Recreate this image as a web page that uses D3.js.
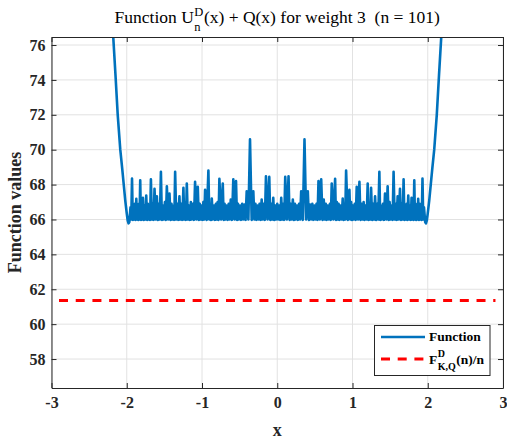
<!DOCTYPE html>
<html><head><meta charset="utf-8">
<script src="https://cdn.jsdelivr.net/npm/d3@7"></script>
<style>
html,body{margin:0;padding:0;background:#fff;}
svg{display:block;}
</style></head>
<body>
<svg id="chart" width="507" height="442"></svg>
<script>
// ---- data ----
const xTicks = [-3,-2,-1,0,1,2,3];
const yTicks = [58,60,62,64,66,68,70,72,74,76];
const xDomain = [-3,3];
const yDomain = [56.34,76.46];

// outer branches of the function
const leftOuterX = [-2.32,-2.25,-2.18,-2.15,-2.12,-2.086,-2.06,-2.04,-2.02,-2.00,-1.988,-1.976,-1.966];
const leftOuterY = [88.0,82.0,76.5,74.3,72.0,70.0,68.9,68.0,67.1,66.35,65.95,65.78,65.85];
const rightOuterX = [1.966,1.976,1.988,2.00,2.02,2.04,2.06,2.086,2.12,2.15,2.18,2.25,2.32];
const rightOuterY = [65.85,65.78,65.95,66.35,67.1,68.0,68.9,70.0,72.0,74.3,76.5,82.0,88.0];

// spikes (near the nodes) and troughs between them, x < 0 (incl. 0)
const leftSpikeX = [-1.950,-1.930,-1.910,-1.892,-1.873,-1.855,-1.838,-1.821,-1.803,-1.785,-1.763,-1.741,-1.720,-1.700,-1.679,-1.655,-1.631,-1.600,-1.573,-1.546,-1.520,-1.493,-1.467,-1.432,-1.405,-1.380,-1.357,-1.328,-1.300,-1.275,-1.247,-1.225,-1.202,-1.175,-1.148,-1.120,-1.092,-1.056,-1.030,-1.005,-0.982,-0.959,-0.915,-0.892,-0.870,-0.840,-0.815,-0.792,-0.769,-0.724,-0.700,-0.672,-0.645,-0.618,-0.584,-0.548,-0.522,-0.495,-0.466,-0.436,-0.406,-0.362,-0.318,-0.290,-0.262,-0.235,-0.207,-0.178,-0.150,-0.106,-0.080,-0.053,-0.026,0.000];
const leftSpikeY = [66.70,68.35,66.80,66.90,67.18,66.80,66.90,68.25,66.90,67.24,66.80,67.37,66.90,66.80,68.30,66.90,67.76,67.33,66.90,68.73,66.80,67.00,67.90,67.49,66.90,66.80,68.73,66.90,67.33,66.90,67.81,66.90,68.06,66.80,67.00,66.90,68.16,67.87,66.90,66.80,67.00,67.70,68.80,66.90,67.20,66.80,66.90,67.00,68.33,68.06,66.90,66.80,66.90,67.14,68.30,68.20,66.90,66.80,66.90,66.85,67.62,70.59,67.62,66.90,66.80,66.90,67.14,66.90,68.48,68.44,66.90,67.24,66.80,66.90];
const leftTroughX = [-1.940,-1.920,-1.901,-1.882,-1.864,-1.846,-1.830,-1.812,-1.794,-1.774,-1.752,-1.730,-1.710,-1.690,-1.667,-1.643,-1.615,-1.587,-1.560,-1.533,-1.507,-1.480,-1.450,-1.418,-1.392,-1.368,-1.342,-1.314,-1.288,-1.261,-1.236,-1.213,-1.188,-1.161,-1.134,-1.106,-1.074,-1.043,-1.017,-0.993,-0.970,-0.937,-0.903,-0.881,-0.855,-0.827,-0.803,-0.780,-0.746,-0.712,-0.686,-0.658,-0.631,-0.601,-0.566,-0.535,-0.508,-0.480,-0.451,-0.421,-0.384,-0.340,-0.304,-0.276,-0.248,-0.221,-0.192,-0.164,-0.128,-0.093,-0.066,-0.040,-0.013];
const leftTroughY = [66.00,65.98,66.00,65.98,66.00,65.98,66.00,65.98,66.00,65.98,66.00,65.98,66.00,65.98,66.00,65.98,66.00,65.98,66.00,65.98,66.00,65.98,66.00,65.98,66.00,65.98,66.00,65.98,66.00,65.98,66.00,65.98,66.00,65.98,66.00,65.98,66.00,65.98,66.00,65.98,66.00,65.98,66.00,65.98,66.00,65.98,66.00,65.98,66.00,65.98,66.00,65.98,66.00,65.98,66.00,65.98,66.00,65.98,66.00,65.98,66.00,65.98,66.00,65.98,66.00,65.98,66.00,65.98,66.00,65.98,66.00,65.98,66.00];

// x > 0
const rightTroughX = [0.013,0.040,0.066,0.093,0.128,0.164,0.192,0.221,0.248,0.276,0.304,0.340,0.384,0.421,0.451,0.480,0.508,0.535,0.566,0.601,0.631,0.658,0.686,0.712,0.746,0.780,0.803,0.827,0.855,0.881,0.903,0.937,0.970,0.993,1.017,1.043,1.074,1.106,1.134,1.161,1.188,1.213,1.236,1.261,1.288,1.314,1.342,1.368,1.392,1.418,1.450,1.480,1.507,1.533,1.560,1.587,1.615,1.643,1.667,1.690,1.710,1.730,1.752,1.774,1.794,1.812,1.830,1.846,1.864,1.882,1.901,1.920,1.940];
const rightTroughY = [66.00,65.98,66.00,65.98,66.00,65.98,66.00,65.98,66.00,65.98,66.00,65.98,66.00,65.98,66.00,65.98,66.00,65.98,66.00,65.98,66.00,65.98,66.00,65.98,66.00,65.98,66.00,65.98,66.00,65.98,66.00,65.98,66.00,65.98,66.00,65.98,66.00,65.98,66.00,65.98,66.00,65.98,66.00,65.98,66.00,65.98,66.00,65.98,66.00,65.98,66.00,65.98,66.00,65.98,66.00,65.98,66.00,65.98,66.00,65.98,66.00,65.98,66.00,65.98,66.00,65.98,66.00,65.98,66.00,65.98,66.00,65.98,66.00];
const rightSpikeX = [0.026,0.053,0.080,0.106,0.150,0.178,0.207,0.235,0.262,0.290,0.318,0.362,0.406,0.436,0.466,0.495,0.522,0.548,0.584,0.618,0.645,0.672,0.700,0.724,0.769,0.792,0.815,0.840,0.870,0.892,0.915,0.959,0.982,1.005,1.030,1.056,1.092,1.120,1.148,1.175,1.202,1.225,1.247,1.275,1.300,1.328,1.357,1.380,1.405,1.432,1.467,1.493,1.520,1.546,1.573,1.600,1.631,1.655,1.679,1.700,1.720,1.741,1.763,1.785,1.803,1.821,1.838,1.855,1.873,1.892,1.910,1.930,1.950];
const rightSpikeY = [66.80,67.24,66.90,68.44,68.48,66.90,67.14,66.90,66.80,66.90,67.62,70.59,67.62,66.85,66.90,66.80,66.90,68.20,68.30,67.14,66.90,66.80,66.90,68.06,68.33,67.00,66.90,66.80,67.20,66.90,68.80,67.70,67.00,66.80,66.90,67.87,68.16,66.90,67.00,66.80,68.06,66.90,67.81,66.90,67.33,66.90,68.73,66.80,66.90,67.49,67.90,67.00,66.80,68.73,66.90,67.33,67.76,66.90,68.30,66.80,66.90,67.37,66.80,67.24,66.90,68.25,66.90,66.80,67.18,66.90,66.80,68.35,66.70];

// red dashed reference level F/n
const refX = [-2.9, 2.9];
const refY = [61.36, 61.36];

// ---- assemble the curve ----
const curve = [];
leftOuterX.forEach((v,i)=>curve.push([v,leftOuterY[i]]));
leftSpikeX.forEach((v,i)=>{
  curve.push([v,leftSpikeY[i]]);
  if(i<leftTroughX.length) curve.push([leftTroughX[i],leftTroughY[i]]);
});
rightSpikeX.forEach((v,i)=>{
  curve.push([rightTroughX[i],rightTroughY[i]]);
  curve.push([v,rightSpikeY[i]]);
});
rightOuterX.forEach((v,i)=>curve.push([v,rightOuterY[i]]));
const refLine = refX.map((v,i)=>[v,refY[i]]);

// ---- layout ----
const FAM = "Liberation Serif, Times New Roman, Times, serif";
const svg = d3.select("#chart");
const L=51.5, R=503, T=37, B=388;
const x = d3.scaleLinear().domain(xDomain).range([L,R]);
const y = d3.scaleLinear().domain(yDomain).range([B,T]);
const axisCol = "#262626";

function txt(sel, size, weight){
  return sel.attr("font-family",FAM).attr("font-size",size).attr("font-weight",weight||"normal");
}

svg.append("rect").attr("x",L).attr("y",T).attr("width",R-L).attr("height",B-T).attr("fill","#fff");

// grid
const grid = svg.append("g").attr("stroke","#e2e2e2").attr("stroke-width",1);
xTicks.forEach(t=>grid.append("line").attr("x1",x(t)).attr("x2",x(t)).attr("y1",T).attr("y2",B));
yTicks.forEach(t=>grid.append("line").attr("x1",L).attr("x2",R).attr("y1",y(t)).attr("y2",y(t)));

// clip
svg.append("clipPath").attr("id","clip").append("rect").attr("x",L).attr("y",T).attr("width",R-L).attr("height",B-T);

const line = d3.line().x(d=>x(d[0])).y(d=>y(d[1]));
const plot = svg.append("g").attr("clip-path","url(#clip)");
plot.append("path").datum(curve).attr("d",line).attr("fill","none")
  .attr("stroke","#0072bd").attr("stroke-width",2.6).attr("stroke-linejoin","round");
plot.append("path").datum(refLine).attr("d",line).attr("fill","none")
  .attr("stroke","#ff0000").attr("stroke-width",3).attr("stroke-dasharray","9,7.7");

// axes
const gx = svg.append("g").attr("transform",`translate(0,${B})`)
  .call(d3.axisBottom(x).tickValues(xTicks).tickSizeInner(-5).tickSizeOuter(0).tickPadding(9).tickFormat(d=>String(d)));
const gy = svg.append("g").attr("transform",`translate(${L},0)`)
  .call(d3.axisLeft(y).tickValues(yTicks).tickSizeInner(-5).tickSizeOuter(0).tickPadding(6).tickFormat(d=>String(d)));
const gt = svg.append("g").attr("transform",`translate(0,${T})`)
  .call(d3.axisTop(x).tickValues(xTicks).tickSizeInner(-5).tickSizeOuter(0).tickFormat(""));
const gr = svg.append("g").attr("transform",`translate(${R},0)`)
  .call(d3.axisRight(y).tickValues(yTicks).tickSizeInner(-5).tickSizeOuter(0).tickFormat(""));
[gx,gy,gt,gr].forEach(g=>{
  txt(g,16,"bold");
  g.selectAll("path,line").attr("stroke",axisCol).attr("stroke-width",1);
  g.selectAll("text").attr("fill",axisCol);
});

// axis titles
txt(svg.append("text"),18,"bold").attr("x",(L+R)/2).attr("y",436).attr("text-anchor","middle")
  .attr("fill",axisCol).text("x");
txt(svg.append("text"),18,"bold").attr("transform",`translate(21,${(T+B)/2}) rotate(-90)`).attr("text-anchor","middle")
  .attr("fill",axisCol).text("Function values");

// title with stacked super/subscript
const tg = svg.append("g");
const t1 = txt(tg.append("text"),17.5).attr("y",23).attr("fill","#000").text("Function U");
const w1 = t1.node().getComputedTextLength();
const sup = txt(tg.append("text"),12.5).attr("x",w1+0.5).attr("y",16).text("D");
const sub = txt(tg.append("text"),12.5).attr("x",w1+0.5).attr("y",31).text("n");
const ws = Math.max(sup.node().getComputedTextLength(), sub.node().getComputedTextLength());
const t2 = txt(tg.append("text"),17.5).attr("x",w1+ws+1).attr("y",23).attr("fill","#000")
  .attr("xml:space","preserve").style("white-space","pre").text("(x) + Q(x) for weight 3  (n = 101)");
const wt = w1+ws+1+t2.node().getComputedTextLength();
tg.attr("transform",`translate(${(L+R)/2 - wt/2},0)`);

// legend
const lg = svg.append("g");
lg.append("rect").attr("x",374.5).attr("y",325.5).attr("width",115.5).attr("height",50).attr("fill","#fff").attr("stroke",axisCol).attr("stroke-width",1);
lg.append("line").attr("x1",381).attr("x2",425).attr("y1",337).attr("y2",337).attr("stroke","#0072bd").attr("stroke-width",2.4);
txt(lg.append("text"),13.5,"bold").attr("x",429).attr("y",341).attr("fill","#000").text("Function");
lg.append("line").attr("x1",381).attr("x2",425).attr("y1",359).attr("y2",359).attr("stroke","#ff0000").attr("stroke-width",3).attr("stroke-dasharray","9,7.7");
const f1 = txt(lg.append("text"),13.5,"bold").attr("x",429).attr("y",364).attr("fill","#000").text("F");
const fw = f1.node().getComputedTextLength();
const s1 = txt(lg.append("text"),10,"bold").attr("x",429+fw+0.5).attr("y",357).attr("fill","#000").text("D");
const s2 = txt(lg.append("text"),10,"bold").attr("x",429+fw+0.5).attr("y",370).attr("fill","#000").text("K,Q");
const sw = Math.max(s1.node().getComputedTextLength(), s2.node().getComputedTextLength());
txt(lg.append("text"),13.5,"bold").attr("x",429+fw+sw+1).attr("y",364).attr("fill","#000").text("(n)/n");
</script>
</body></html>
